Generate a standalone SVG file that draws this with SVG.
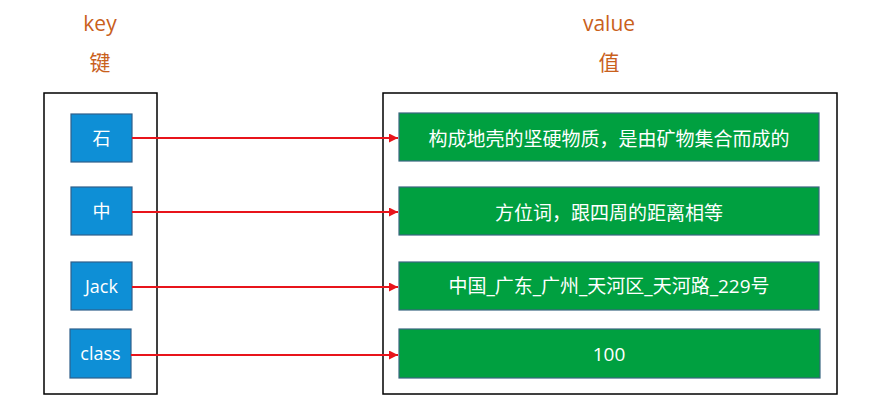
<svg xmlns="http://www.w3.org/2000/svg" width="877" height="415" viewBox="0 0 877 415">
<defs>
<style>
.hdr{font-family:"Open Sans","Noto Sans CJK SC",sans-serif;font-size:21px;fill:#C9601C;text-anchor:middle}
.frame{fill:#fff;stroke:#000;stroke-width:1.5}
.key{fill:#0E8FD6;stroke:#2F5F8A;stroke-width:1.2}
.val{fill:#00A040;stroke:#3A6680;stroke-width:1.2}
.kt{font-family:"Open Sans","Noto Sans CJK SC",sans-serif;font-size:18px;fill:#fff;text-anchor:middle;dominant-baseline:central}
.vt{font-family:"Noto Sans CJK SC",sans-serif;font-size:19px;fill:#fff;text-anchor:middle;dominant-baseline:central}
.vtl{font-family:"Open Sans","Noto Sans CJK SC",sans-serif;font-size:19px;fill:#fff;text-anchor:middle;dominant-baseline:central}
.conn{stroke:#E8141B;stroke-width:1.8;fill:none;marker-end:url(#ah)}
</style>
<marker id="ah" viewBox="0 0 10 10" refX="10" refY="5" markerWidth="5" markerHeight="5" orient="auto" markerUnits="strokeWidth">
<path d="M0,0 L10,5 L0,10 z" fill="#E8141B"/>
</marker>
</defs>
<rect width="877" height="415" fill="#fff"/>
<g id="headers">
<text class="hdr" x="100" y="31">key</text>
<text class="hdr" x="100" y="70">键</text>
<text class="hdr" x="609" y="31">value</text>
<text class="hdr" x="609" y="70">值</text>
</g>
<g id="key-container"><rect class="frame" x="44" y="93" width="113" height="301"/></g>
<g id="value-container"><rect class="frame" x="383" y="93" width="454" height="301"/></g>
<g id="k1"><rect class="key" x="71" y="114" width="61" height="48"/><text class="kt" x="101.5" y="138">石</text></g>
<g id="k2"><rect class="key" x="71" y="187" width="61" height="48"/><text class="kt" x="101.5" y="211">中</text></g>
<g id="k3"><rect class="key" x="71" y="262" width="61" height="48"/><text class="kt" x="101.5" y="286">Jack</text></g>
<g id="k4"><rect class="key" x="70" y="329" width="61" height="49"/><text class="kt" x="100.5" y="353">class</text></g>
<g id="v1"><rect class="val" x="399" y="113" width="420" height="48"/><text class="vt" x="609" y="137">构成地壳的坚硬物质，是由矿物集合而成的</text></g>
<g id="v2"><rect class="val" x="399" y="187" width="420" height="48"/><text class="vt" x="609" y="211">方位词，跟四周的距离相等</text></g>
<g id="v3"><rect class="val" x="399" y="262" width="420" height="48"/><text class="vtl" x="609" y="286">中国_广东_广州_天河区_天河路_229号</text></g>
<g id="v4"><rect class="val" x="399" y="329" width="421" height="49"/><text class="vtl" x="609" y="354">100</text></g>
<g id="connectors">
<line class="conn" x1="132" y1="138" x2="398" y2="138"/>
<line class="conn" x1="132" y1="212" x2="398" y2="212"/>
<line class="conn" x1="132" y1="287" x2="398" y2="287"/>
<line class="conn" x1="131" y1="355" x2="398" y2="355"/>
</g>
</svg>
